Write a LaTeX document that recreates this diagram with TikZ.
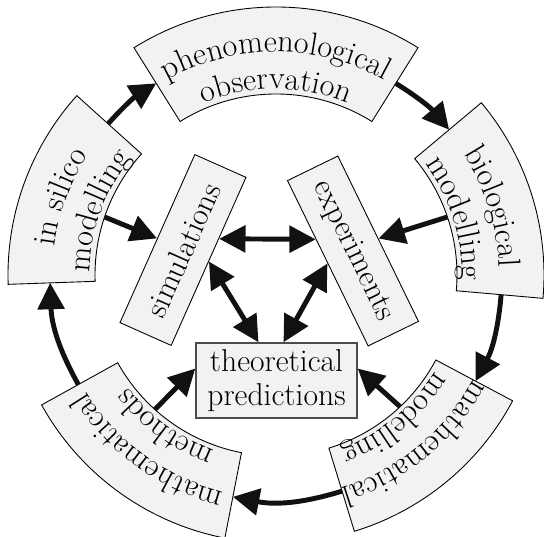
\documentclass[tikz,border=0pt]{standalone}
\usetikzlibrary{arrows.meta,calc,decorations.text}
\definecolor{CycleFill}{HTML}{F2F2F2}
\definecolor{CycleInk}{HTML}{111111}
\newcommand\ringfont{\fontsize{18.3}{21}\selectfont}
\newcommand\corefont{\fontsize{18}{19.5}\selectfont}
\tikzset{bigtip/.tip={Triangle[length=15pt,width=15pt]}}

\begin{document}
\begin{tikzpicture}[
    x=0.02cm, y=0.02cm,
    sector/.style={fill=CycleFill, draw=black, line width=0.5pt},
    core/.style={
      fill=CycleFill,
      draw=black,
      line width=0.5pt,
      inner sep=0pt,
      font=\corefont,
      minimum width=3.68cm,
      minimum height=1.12cm
    },
    flow/.style={draw=CycleInk, line width=2.8pt, -bigtip},
    both/.style={draw=CycleInk, line width=2.8pt, bigtip-bigtip}
  ]
  \useasboundingbox (-276,-262) rectangle (268,275);
  % outer ring of stages
  \foreach \name/\ang/\wid/\inang/\first/\second in {
      obs/90/32/90/phenomenological/observation,
      bio/17.5/22.5/18.7/biological/modelling,
      mmod/-50.5/22.5/-46.7/mathematical/modelling,
      mmeth/-126/25/-132/mathematical/methods,
      silico/160/22/161.3/in silico/modelling}{
    \draw[sector] (\ang-\wid:181) arc[start angle=\ang-\wid, end angle=\ang+\wid, radius=181]
      -- (\ang+\wid:268) arc[start angle=\ang+\wid, end angle=\ang-\wid, radius=268] -- cycle;
    \path[decorate, decoration={text along path, text align=center,
        text/.expanded={|\noexpand\ringfont|\first}}]
      (\ang+60:223) arc[start angle=\ang+60, end angle=\ang-60, radius=223];
    \path[decorate, decoration={text along path, text align=center,
        text/.expanded={|\noexpand\ringfont|\second}}]
      (\ang+60:186) arc[start angle=\ang+60, end angle=\ang-60, radius=186];
    \coordinate (\name-cw) at (\ang-\wid:226);
    \coordinate (\name-ccw) at (\ang+\wid:226);
    \coordinate (\name-in) at (\inang:181);
  }
  % inner triangle
  \node[core, rotate=66] (sim) at (-93,25) {simulations};
  \node[core, rotate=-64] (exp) at (77,24) {experiments};
  \node[core, draw=black!70, line width=0.8pt, minimum width=3.22cm, minimum height=1.5cm,
    align=center] (theo) at (0.5,-105.5) {theoretical\\predictions};
  % cycle
  \draw[flow] (silico-cw) to[bend left=8] (obs-ccw);
  \draw[flow] (obs-cw) to[bend left=9] (bio-ccw);
  \draw[flow] (bio-cw) to[bend left=11.5] (mmod-ccw);
  \draw[flow] (mmod-cw) to[bend left=14] (mmeth-ccw);
  \draw[flow] (mmeth-cw) to[bend left=13.5] (silico-ccw);
  % into the middle
  \draw[flow] (silico-in) -- (sim.north);
  \draw[flow] (bio-in) -- (exp.north);
  \draw[flow] (mmeth-in) -- ($(theo.west)+(0,12)$);
  \draw[flow] (mmod-in) -- ($(theo.east)+(0,12)$);
  \draw[both] ($(sim.south)!0.27!(sim.south east)$) -- ($(exp.south)!0.29!(exp.south west)$);
  \draw[both] (sim.south) -- ($(theo.north)+(-18,0)$);
  \draw[both] (exp.south) -- ($(theo.north)+(7,0)$);
\end{tikzpicture}
\end{document}
